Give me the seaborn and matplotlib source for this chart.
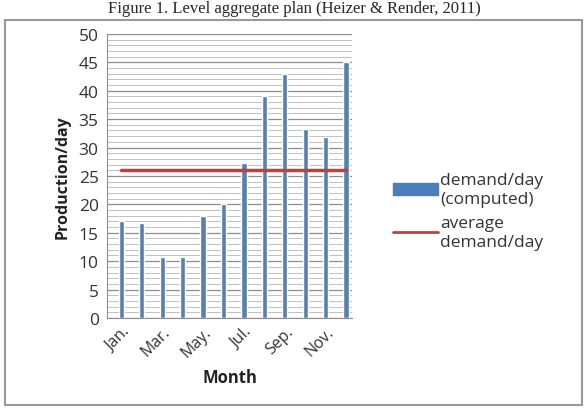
import numpy as np
import pandas as pd
import matplotlib.pyplot as plt
import seaborn as sns
from matplotlib.patches import Rectangle
from matplotlib.lines import Line2D
from matplotlib.patches import Patch

months = ["Jan.", "Feb.", "Mar.", "Apr.", "May.", "Jun.", "Jul.", "Aug.", "Sep.", "Oct.", "Nov.", "Dec."]
demand = [17, 16.8, 10.8, 10.8, 18, 20, 27.2, 39, 43, 33.3, 31.8, 45]
average = [26] * 12

df = pd.DataFrame({"Month": months, "demand": demand, "average": average})

sns.set_style("white")
plt.rcParams['font.family'] = ['Open Sans', 'DejaVu Sans']

fig = plt.figure(figsize=(5.88, 4.10), dpi=100)
ax = fig.add_axes([0.182, 0.222, 0.417, 0.693])

sns.barplot(data=df, x="Month", y="demand", color="#4a7ebb", width=0.26, ax=ax, zorder=3)
ax.plot(range(12), df["average"], color="#c0403c", lw=2.5, zorder=4)

ax.set_ylim(0, 50)
ax.set_xlim(-0.7, 11.3)
ax.set_yticks(range(0, 51, 5))
ax.set_yticks(range(0, 51, 1), minor=True)
ax.grid(axis="y", which="major", color="#8c8c8c", lw=0.9, zorder=0)
ax.grid(axis="y", which="minor", color="#b5b5b5", lw=0.6, zorder=0)
ax.set_axisbelow(True)
for s in ["top", "right"]:
    ax.spines[s].set_visible(False)
ax.spines["left"].set_color("#8c8c8c")
ax.spines["bottom"].set_color("#8c8c8c")

ax.set_xticks(range(0, 12, 2))
ax.set_xticklabels(months[::2], rotation=45, ha="right", rotation_mode="anchor", fontsize=11.5, color="#333333")
ax.tick_params(axis="y", labelsize=12.5, colors="#333333", length=0, pad=6)
ax.tick_params(axis="x", length=0, pad=4)
ax.set_ylabel("Production/day", fontsize=11.5, fontweight="bold", color="#222222", labelpad=6)
ax.set_xlabel("Month", fontsize=12, fontweight="bold", color="#222222", labelpad=6)

handles = [Patch(color="#4a7ebb"), Line2D([0], [0], color="#c0403c", lw=2)]
fig.legend(handles, ["demand/day\n(computed)", "average\ndemand/day"],
           loc="center left", bbox_to_anchor=(0.642, 0.483), frameon=False,
           fontsize=12.5, handlelength=2.6, handletextpad=0.1, labelspacing=0.5,
           labelcolor="#333333")

fig.patches.append(Rectangle((0.009, 0.01), 0.98, 0.94, transform=fig.transFigure,
                             fill=False, edgecolor="#999999", lw=1.5))

fig.text(0.5, 0.998, "Figure 1. Level aggregate plan (Heizer & Render, 2011)",
         ha="center", va="top", fontsize=12, family="Liberation Serif")

fig.savefig("out.png", dpi=100)
